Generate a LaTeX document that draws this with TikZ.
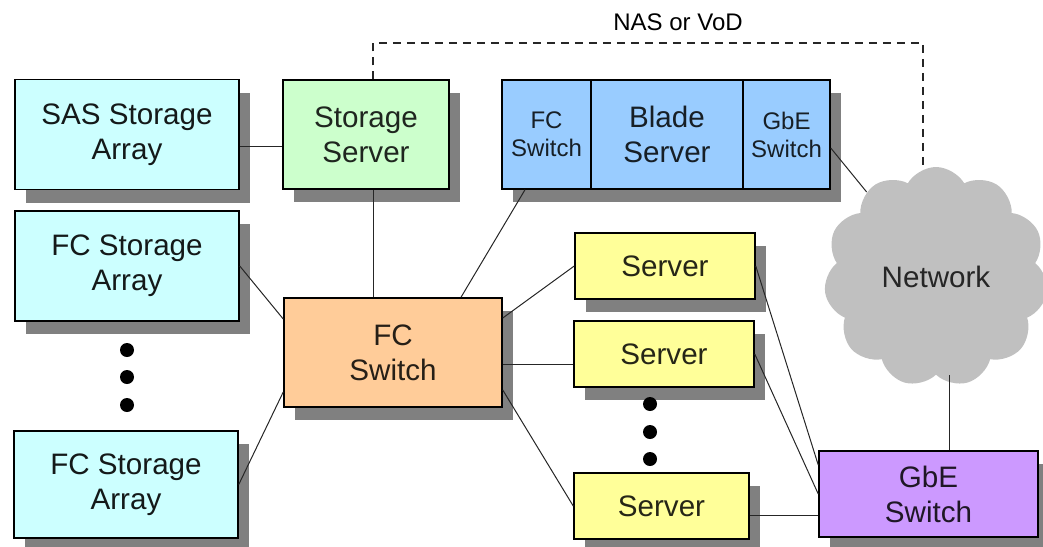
\documentclass[tikz,border=0pt]{standalone}
\usepackage{fontspec}
\setmainfont{Liberation Sans}
\usetikzlibrary{shapes, shadows, positioning}
\definecolor{arraycolor}{HTML}{CCFFFF}
\definecolor{storecolor}{HTML}{CCFFCC}
\definecolor{bladecolor}{HTML}{99CCFF}
\definecolor{fccolor}{HTML}{FFCC99}
\definecolor{servercolor}{HTML}{FFFF99}
\definecolor{gbecolor}{HTML}{CC99FF}
\definecolor{cloudcolor}{HTML}{C0C0C0}
\tikzset{box/.style={draw=black, line width=0.75pt, align=center, inner sep=0pt, font=\fontsize{14.8}{17.5}\selectfont, drop shadow={shadow xshift=5.5pt, shadow yshift=-6.5pt, fill=black!50, opacity=1}}}
\tikzset{storage/.style={box, fill=arraycolor, text=arraycolor!10!black, minimum width=112pt, minimum height=55pt}}
\tikzset{store/.style={box, fill=storecolor, text=storecolor!15!black, minimum width=83pt, minimum height=54.5pt}}
\tikzset{blade/.style={box, fill=bladecolor, text=bladecolor!15!black, minimum height=54.5pt}}
\tikzset{fcswitch/.style={box, fill=fccolor, text=fccolor!15!black, minimum width=109pt, minimum height=54.5pt}}
\tikzset{server/.style={box, fill=servercolor, text=servercolor!15!black, minimum width=90pt, minimum height=33pt}}
\tikzset{gbe/.style={box, fill=gbecolor, text=gbecolor!15!black, minimum width=109.5pt, minimum height=43pt}}
\tikzset{small/.style={font=\fontsize{12}{14}\selectfont}}
\tikzset{link/.style={draw=black!85, line width=0.5pt}}

\begin{document}
\begin{tikzpicture}[x=0.5pt, y=-0.5pt]
	\useasboundingbox (0,0) rectangle (1043,546);

	%%% NODES %%%

	% STORAGE
	\node[storage] at (127,134.5) (sasarray) {SAS Storage\\Array};
	\node[store] at (366,134.5) (storeserver) {Storage\\Server};
	\node[storage] at (127,266) (fcarray1) {FC Storage\\Array};
	\node[storage, minimum height=53.5pt] at (126,484.5) (fcarray2) {FC Storage\\Array};
	\node[fcswitch] at (393,352.5) (fcswitch) {FC\\Switch};

	% BLADE
	\node[blade, small, minimum width=44.5pt] at (546.5,134.5) (bladefc) {FC\\Switch};
	\node[blade, minimum width=76pt] at (667,134.5) (blade) {Blade\\Server};
	\node[blade, small, minimum width=43.5pt] at (786.5,134.5) (bladegbe) {GbE\\Switch};

	% SERVERS
	\node[server] at (665,266) (server1) {Server};
	\node[server] at (664,354) (server2) {Server};
	\node[server, minimum width=87.5pt] at (661.5,506) (server3) {Server};
	\node[gbe] at (928.5,494) (gbeswitch) {GbE\\Switch};

	% NETWORK
	\node[cloud, cloud puffs=11, cloud puff arc=120, aspect=1, fill=cloudcolor, inner sep=0pt, minimum width=112pt, minimum height=110pt, font=\fontsize{14.8}{17.5}\selectfont, text=black!85] at (936,277) (network) {Network};
	\node[small] at (678,22) (naslabel) {NAS or VoD};
	\coordinate (nascorner) at (923,43);

	% DOTS
	\foreach \y in {350,377,405} \fill (127,\y) circle[radius=3.5pt];
	\foreach \y in {404,432,459} \fill (650,\y) circle[radius=3.5pt];

	%%% LINES %%%

	\draw[link] ([yshift=-5.75pt]sasarray.east) -- ([yshift=-5.75pt]storeserver.west);
	\draw[link, dashed, line width=0.75pt, dash pattern=on 4pt off 3pt] ([xshift=3.5pt]storeserver.north) |- (nascorner) -- (network.north -| nascorner);
	\draw[link] ([xshift=3.5pt]storeserver.south) -- ([xshift=3.5pt]storeserver.south |- fcswitch.north);
	\draw[link] (fcarray1.east) -- ([yshift=16.75pt]fcswitch.west);
	\draw[link] (fcarray2.east) -- ([yshift=-19.75pt]fcswitch.west);
	\draw[link] ([xshift=34pt]fcswitch.north) -- ([xshift=-10.75pt]bladefc.south);
	\draw[link] ([yshift=17.25pt]fcswitch.east) -- (server1.west);
	\draw[link] ([yshift=-5pt]server2.west -| fcswitch.east) -- ([yshift=-5pt]server2.west);
	\draw[link] ([yshift=-18.75pt]fcswitch.east) -- (server3.west);
	\draw[link] (server1.east) -- ([yshift=14.5pt]gbeswitch.west);
	\draw[link] (server2.east) -- (gbeswitch.west);
	\draw[link] ([yshift=-4.5pt]server3.east) -- ([yshift=-4.5pt]server3.east -| gbeswitch.west);
	\draw[link] ([yshift=-6.75pt]bladegbe.east) -- (network);
	\draw[link] ([xshift=10.25pt]gbeswitch.north) -- ([xshift=10.25pt]gbeswitch.north |- network.south);

\end{tikzpicture}
\end{document}
